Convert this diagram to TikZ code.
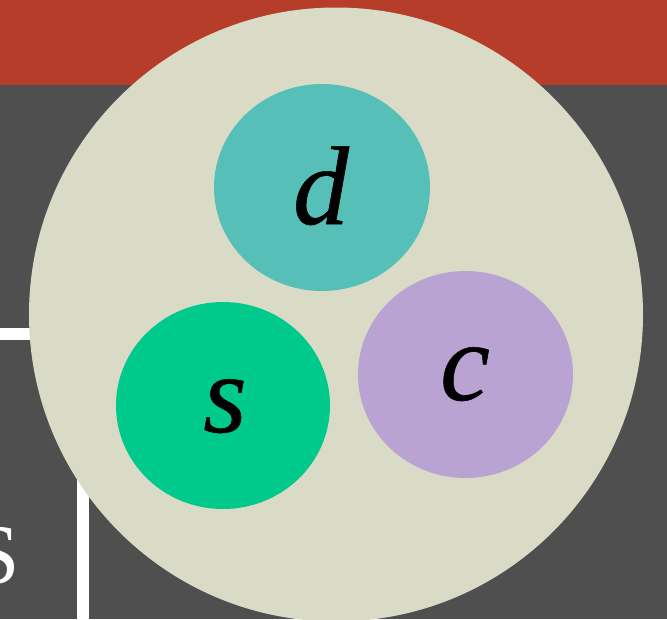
\documentclass[tikz,border=0pt]{standalone}
\usepackage{fontspec}
\setmainfont{Liberation Serif}
\newfontfamily\letterfont{Liberation Serif}[ItalicFeatures={FakeBold=0.5}]
\definecolor{bggray}{HTML}{4F4F4F}
\definecolor{bandred}{HTML}{B53D29}
\definecolor{beige}{HTML}{D9DBC6}
\definecolor{teal}{HTML}{55BFB8}
\definecolor{mint}{HTML}{00C98C}
\definecolor{lilac}{HTML}{B9A3D3}
\tikzset{
  letter/.style={font=\letterfont\fontsize{112}{112}\selectfont\itshape, text=black, inner sep=0pt, anchor=base},
  whiteline/.style={draw=white, line width=12pt}
}
\begin{document}
\begin{tikzpicture}[x=1pt,y=-1pt]
\useasboundingbox (0,0) rectangle (667,619);
\clip (0,0) rectangle (667,619);
\fill[bggray] (0,0) rectangle (667,619);
\fill[bandred] (0,0) rectangle (667,85);
% left remnants
\coordinate (hl1) at (0,333.5);
\coordinate (hl2) at (60,333.5);
\draw[whiteline] (hl1) -- (hl2);
\coordinate (vl1) at (82.5,440);
\coordinate (vl2) at (82.5,625);
\draw[whiteline] (vl1) -- (vl2);
\node[font=\fontsize{85}{85}\selectfont, text=white, inner sep=0pt, anchor=base east] (S) at (20,583) {S};
% big circle
\fill[beige] (336,314.5) ellipse [x radius=307pt, y radius=307pt];
\fill[teal] (322,187.5) ellipse [x radius=108pt, y radius=103.5pt];
\fill[mint] (223,405.5) ellipse [x radius=107pt, y radius=103.5pt];
\fill[lilac] (465.5,374.5) ellipse [x radius=107.5pt, y radius=103.5pt];
\node[letter] (d) at (321,224) {d};
\node[letter] (s) at (225,432) {s};
\node[letter] (c) at (465,400) {c};
\end{tikzpicture}
\end{document}
